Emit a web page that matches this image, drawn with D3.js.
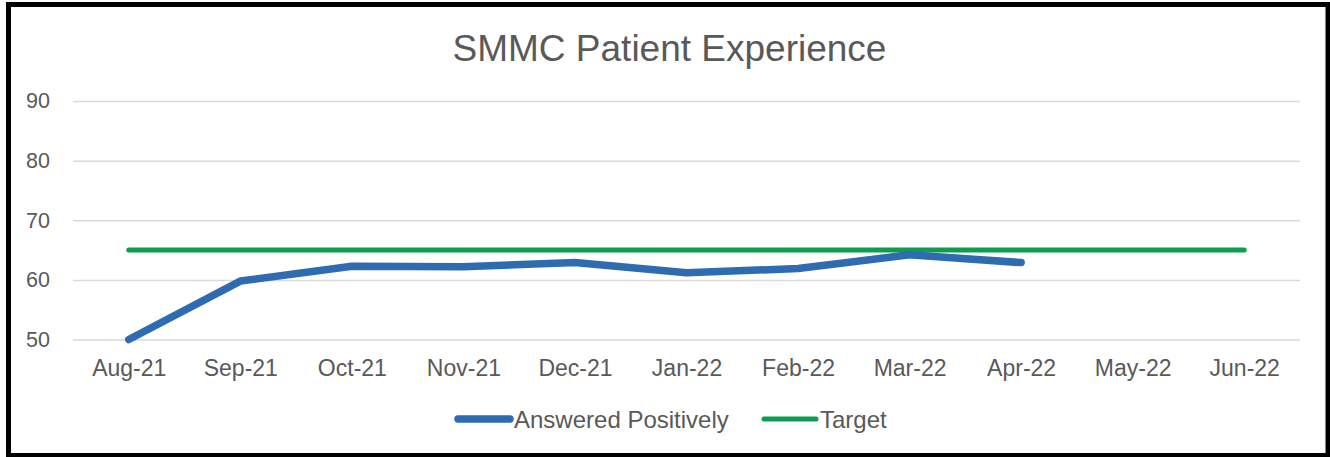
<!DOCTYPE html>
<html>
<head>
<meta charset="utf-8">
<script src="https://cdn.jsdelivr.net/npm/d3@7"></script>
<style>
  body { margin: 0; background: #fff; }
  text { font-family: "Liberation Sans", Arial, sans-serif; fill: #595959; }
</style>
</head>
<body>
<div id="chart"></div>
<script>
// chart data
var months = ['Aug-21', 'Sep-21', 'Oct-21', 'Nov-21', 'Dec-21', 'Jan-22',
              'Feb-22', 'Mar-22', 'Apr-22', 'May-22', 'Jun-22'];
var answered = [50, 59.8, 62.3, 62.2, 62.9, 61.2, 61.9, 64.2, 62.9];
var target = [65, 65, 65, 65, 65, 65, 65, 65, 65, 65, 65];
var yTicks = [50, 60, 70, 80, 90];
var seriesNames = ['Answered Positively', 'Target'];

var width = 1330;
var height = 457;

var margin = { top: 101, right: 30, bottom: 118, left: 73 };
var chartWidth = 1300 - margin.left;
var chartHeight = 339.5 - margin.top;

var svg = d3.select('#chart').append('svg')
    .attr('width', width)
    .attr('height', height);

// outer frame
svg.append('rect')
    .attr('x', 8.5)
    .attr('y', 4.5)
    .attr('width', 1319.5)
    .attr('height', 451)
    .attr('fill', '#fff')
    .attr('stroke', '#000')
    .attr('stroke-width', 5);

svg.append('text')
    .attr('x', 669.5)
    .attr('y', 61)
    .attr('text-anchor', 'middle')
    .style('font-size', '37px')
    .text('SMMC Patient Experience');

var chartGroup = svg.append('g')
    .attr('transform', `translate(${margin.left}, ${margin.top})`);

var xScale = d3.scalePoint()
    .domain(months)
    .range([0, chartWidth])
    .padding(0.5);

var yScale = d3.scaleLinear()
    .domain([50, 90])
    .range([chartHeight, 0]);

// gridlines + y labels
var leftAxis = d3.axisLeft(yScale)
    .tickValues(yTicks)
    .tickSize(-chartWidth)
    .tickPadding(23);

var yAxis = chartGroup.append('g').call(leftAxis);
yAxis.select('.domain').remove();
yAxis.selectAll('line').attr('stroke', '#d9d9d9').attr('stroke-width', 1.5);
yAxis.selectAll('text')
    .attr('fill', '#595959')
    .style('font-size', '21.5px')
    .style('font-family', '"Liberation Sans", Arial, sans-serif');

var bottomAxis = d3.axisBottom(xScale).tickSize(0).tickPadding(20);
var xAxis = chartGroup.append('g')
    .attr('transform', `translate(0, ${chartHeight})`)
    .call(bottomAxis);
xAxis.select('.domain').remove();
xAxis.selectAll('text')
    .attr('fill', '#595959')
    .style('font-size', '23px')
    .style('font-family', '"Liberation Sans", Arial, sans-serif');

var line = d3.line()
    .x((d, i) => xScale(months[i]))
    .y(d => yScale(d));

chartGroup.append('path')
    .datum(target)
    .attr('d', line)
    .attr('fill', 'none')
    .attr('stroke', '#0c9d4f')
    .attr('stroke-width', 5)
    .attr('stroke-linecap', 'round');

chartGroup.append('path')
    .datum(answered)
    .attr('d', line)
    .attr('fill', 'none')
    .attr('stroke', '#2e6bb0')
    .attr('stroke-width', 7.5)
    .attr('stroke-linecap', 'round')
    .attr('stroke-linejoin', 'round');

// legend
var legendItems = [
    { name: seriesNames[0], color: '#2e6bb0', w: 7.5, x: 458 },
    { name: seriesNames[1], color: '#0c9d4f', w: 5, x: 764 }
];

var legend = svg.append('g').attr('transform', 'translate(0, 419)');
legendItems.forEach(function(item) {
    legend.append('line')
        .attr('x1', item.x)
        .attr('x2', item.x + 52)
        .attr('y1', 0)
        .attr('y2', 0)
        .attr('stroke', item.color)
        .attr('stroke-width', item.w)
        .attr('stroke-linecap', 'round');
    legend.append('text')
        .attr('x', item.x + 56)
        .attr('y', 8.5)
        .style('font-size', '24px')
        .text(item.name);
});
</script>
</body>
</html>
